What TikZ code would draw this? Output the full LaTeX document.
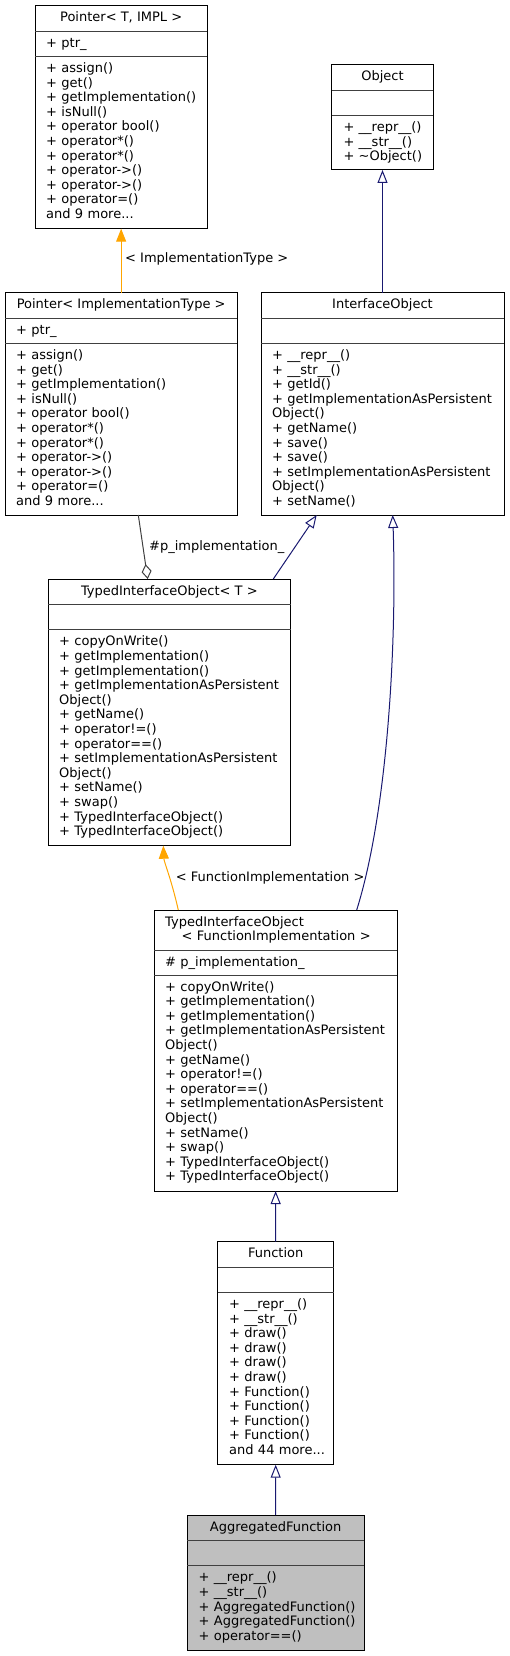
\documentclass[tikz,border=0pt]{standalone}
\usepackage{fontspec}
\setmainfont{DejaVu Sans}
\usepackage{tikz}
\usetikzlibrary{arrows.meta, positioning}
\definecolor{edgeblue}{HTML}{191970}
\definecolor{edgeorange}{HTML}{FFA500}
\definecolor{edgegray}{HTML}{404040}
\newcommand{\classfont}{\fontsize{13}{14.6}\selectfont}
\tikzstyle{classbox} = [draw=black, line width=1pt, inner sep=0, outer sep=0]
\tikzstyle{classtitle} = [anchor=base, inner sep=0, font=\classfont]
\tikzstyle{members} = [anchor=base west, inner sep=0, text width=250pt, align=left, font=\classfont]
\tikzstyle{divider} = [draw=edgegray, line width=1pt]
\tikzstyle{inherit} = [draw=edgeblue, line width=1pt, -{Triangle[open, length=13pt, width=10pt, fill=white]}]
\tikzstyle{template} = [draw=edgeorange, line width=1pt, -{Triangle[length=13pt, width=10pt, fill=edgeorange]}]
\tikzstyle{usage} = [draw=edgegray, line width=1pt, -{Diamond[open, length=15pt, width=10pt, fill=white]}]
\tikzstyle{edgelabel} = [anchor=base west, inner sep=0, font=\classfont]

\begin{document}
\begin{tikzpicture}[x=1pt, y=-1pt]
\useasboundingbox (0, 0) rectangle (509, 1656);

\node (PtrT) [classbox, minimum width=172.3, minimum height=223] at (121.15, 117.2) {};
\draw[divider] ([yshift=-25.4pt]PtrT.north west) -- ([yshift=-25.4pt]PtrT.north east);
\draw[divider] ([yshift=-50.8pt]PtrT.north west) -- ([yshift=-50.8pt]PtrT.north east);
\node (PtrTTitle) [classtitle] at (121.15, 21.7) {Pointer< T, IMPL >};
\node (PtrTAttr) [members] at (46, 47.1) {+ ptr\_};
\node (PtrTOps) [members] at (46, 72.5) {+ assign()\\+ get()\\+ getImplementation()\\+ isNull()\\+ operator bool()\\+ operator*()\\+ operator*()\\+ operator->()\\+ operator->()\\+ operator=()\\and 9 more...};

\node (Object) [classbox, minimum width=101.6, minimum height=105.3] at (382.5, 117.35) {};
\draw[divider] ([yshift=-25.4pt]Object.north west) -- ([yshift=-25.4pt]Object.north east);
\draw[divider] ([yshift=-50.8pt]Object.north west) -- ([yshift=-50.8pt]Object.north east);
\node (ObjectTitle) [classtitle] at (382.5, 80.7) {Object};
\node (ObjectOps) [members] at (343.3, 131.5) {+ \_\_repr\_\_()\\+ \_\_str\_\_()\\+ \textasciitilde Object()};

\node (PtrImpl) [classbox, minimum width=232.3, minimum height=222.3] at (121.15, 403.85) {};
\draw[divider] ([yshift=-25.4pt]PtrImpl.north west) -- ([yshift=-25.4pt]PtrImpl.north east);
\draw[divider] ([yshift=-50.8pt]PtrImpl.north west) -- ([yshift=-50.8pt]PtrImpl.north east);
\node (PtrImplTitle) [classtitle] at (121.15, 308.7) {Pointer< ImplementationType >};
\node (PtrImplAttr) [members] at (16, 334.1) {+ ptr\_};
\node (PtrImplOps) [members] at (16, 359.5) {+ assign()\\+ get()\\+ getImplementation()\\+ isNull()\\+ operator bool()\\+ operator*()\\+ operator*()\\+ operator->()\\+ operator->()\\+ operator=()\\and 9 more...};

\node (IfaceObj) [classbox, minimum width=243, minimum height=222.3] at (382.5, 403.85) {};
\draw[divider] ([yshift=-25.4pt]IfaceObj.north west) -- ([yshift=-25.4pt]IfaceObj.north east);
\draw[divider] ([yshift=-50.8pt]IfaceObj.north west) -- ([yshift=-50.8pt]IfaceObj.north east);
\node (IfaceObjTitle) [classtitle] at (382.5, 308.7) {InterfaceObject};
\node (IfaceObjOps) [members] at (272, 359.5) {+ \_\_repr\_\_()\\+ \_\_str\_\_()\\+ getId()\\+ getImplementationAsPersistent\\Object()\\+ getName()\\+ save()\\+ save()\\+ setImplementationAsPersistent\\Object()\\+ setName()};

\node (TIOT) [classbox, minimum width=242.7, minimum height=266.7] at (169.35, 712.35) {};
\draw[divider] ([yshift=-25.4pt]TIOT.north west) -- ([yshift=-25.4pt]TIOT.north east);
\draw[divider] ([yshift=-50.8pt]TIOT.north west) -- ([yshift=-50.8pt]TIOT.north east);
\node (TIOTTitle) [classtitle] at (169.35, 595) {TypedInterfaceObject< T >};
\node (TIOTOps) [members] at (59, 645.8) {+ copyOnWrite()\\+ getImplementation()\\+ getImplementation()\\+ getImplementationAsPersistent\\Object()\\+ getName()\\+ operator!=()\\+ operator==()\\+ setImplementationAsPersistent\\Object()\\+ setName()\\+ swap()\\+ TypedInterfaceObject()\\+ TypedInterfaceObject()};

\node (TIOFI) [classbox, minimum width=242.7, minimum height=281] at (275.65, 1050.5) {};
\draw[divider] ([yshift=-40pt]TIOFI.north west) -- ([yshift=-40pt]TIOFI.north east);
\draw[divider] ([yshift=-65pt]TIOFI.north west) -- ([yshift=-65pt]TIOFI.north east);
\node (TIOFITitle) [members] at (165, 926) {TypedInterfaceObject\\\hspace*{16.5pt}< FunctionImplementation >};
\node (TIOFIAttr) [members] at (165, 966) {\# p\_implementation\_};
\node (TIOFIOps) [members] at (165, 991) {+ copyOnWrite()\\+ getImplementation()\\+ getImplementation()\\+ getImplementationAsPersistent\\Object()\\+ getName()\\+ operator!=()\\+ operator==()\\+ setImplementationAsPersistent\\Object()\\+ setName()\\+ swap()\\+ TypedInterfaceObject()\\+ TypedInterfaceObject()};

\node (Func) [classbox, minimum width=116, minimum height=223] at (275.7, 1353.2) {};
\draw[divider] ([yshift=-25.4pt]Func.north west) -- ([yshift=-25.4pt]Func.north east);
\draw[divider] ([yshift=-50.8pt]Func.north west) -- ([yshift=-50.8pt]Func.north east);
\node (FuncTitle) [classtitle] at (275.7, 1257.7) {Function};
\node (FuncOps) [members] at (229, 1308.5) {+ \_\_repr\_\_()\\+ \_\_str\_\_()\\+ draw()\\+ draw()\\+ draw()\\+ draw()\\+ Function()\\+ Function()\\+ Function()\\+ Function()\\and 44 more...};

\node (AggF) [classbox, fill=black!25, minimum width=177.3, minimum height=135] at (275.65, 1582.5) {};
\draw[divider] ([yshift=-25.4pt]AggF.north west) -- ([yshift=-25.4pt]AggF.north east);
\draw[divider] ([yshift=-50.8pt]AggF.north west) -- ([yshift=-50.8pt]AggF.north east);
\node (AggFTitle) [classtitle] at (275.65, 1531) {AggregatedFunction};
\node (AggFOps) [members] at (198.5, 1581.8) {+ \_\_repr\_\_()\\+ \_\_str\_\_()\\+ AggregatedFunction()\\+ AggregatedFunction()\\+ operator==()};

\draw[template] (PtrImpl.north) -- (PtrT.south);
\node (PtrLabel) [edgelabel] at (125, 262.5) {< ImplementationType >};
\draw[inherit] (IfaceObj.north) -- (Object.south);

\draw[usage] ([xshift=17.15pt]PtrImpl.south) -- ([xshift=-21.65pt]TIOT.north);
\node (UsageLabel) [edgelabel] at (149, 550) {\#p\_implementation\_};
\draw[inherit] ([xshift=103.95pt]TIOT.north) -- ([xshift=-65.8pt]IfaceObj.south);

\draw[template] ([xshift=-97.35pt]TIOFI.north) .. controls (171, 878) and (164, 862) .. ([xshift=-6.05pt]TIOT.south);
\node (FuncImplLabel) [edgelabel] at (175.7, 881) {< FunctionImplementation >};
\draw[inherit] ([xshift=81.05pt]TIOFI.north) .. controls (388, 810) and (397, 640) .. ([xshift=10.2pt]IfaceObj.south);

\draw[inherit] (Func.north) -- (TIOFI.south);
\draw[inherit] (AggF.north) -- (Func.south);
\end{tikzpicture}
\end{document}
